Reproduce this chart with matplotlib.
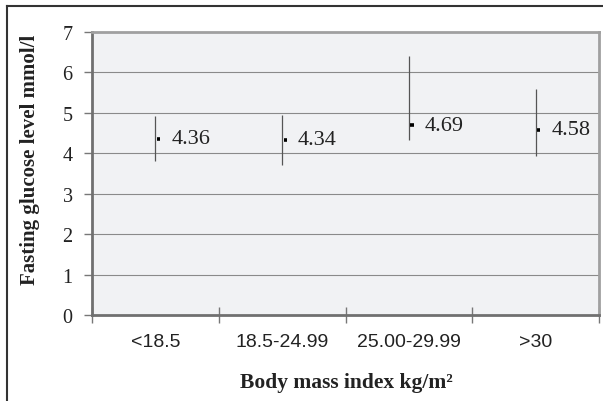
import matplotlib
matplotlib.use("Agg")
import matplotlib.pyplot as plt
from matplotlib.lines import Line2D

categories = ["<18.5", "18.5-24.99", "25.00-29.99", ">30"]
means = [4.36, 4.34, 4.69, 4.58]
highs = [4.92, 4.95, 6.41, 5.59]
lows = [3.81, 3.71, 4.33, 3.93]
yticks = [0, 1, 2, 3, 4, 5, 6, 7]

W, H = 603, 402
fig = plt.figure(figsize=(W / 100, H / 100), dpi=100)
serif = ["Liberation Serif", "DejaVu Serif"]
sans = ["Liberation Sans", "DejaVu Sans"]

ax = fig.add_axes([92 / W, 1 - 316 / H, (599 - 92) / W, (316 - 33) / H])
ax.set_facecolor("#f1f2f4")
x = list(range(len(categories)))
ax.set_xlim(-0.5, len(categories) - 0.5)
ax.set_ylim(0, 7)

for v in yticks[1:-1]:
    ax.axhline(v, color="#8a8a8a", lw=0.8, zorder=1)

ax.vlines(x, lows, highs, color="#555555", lw=0.9, zorder=3)
ax.hlines(means, [xi + 0.012 for xi in x], [xi + 0.038 for xi in x],
          color="black", lw=2.6, zorder=4)
for xi, m in zip(x, means):
    ax.annotate(f"{m:.2f}", (xi, m), xytext=(16, 0), textcoords="offset pixels",
                ha="left", va="center", fontsize=16, family=serif, color="#222222")

ax.set_yticks(yticks)
ax.set_yticklabels([str(t) for t in yticks], family=serif, fontsize=14.5, color="#222222")
ax.tick_params(axis="y", direction="out", length=6, width=1, color="#777777", pad=8)

ax.set_xticks(x)
ax.set_xticklabels(categories, family=sans, fontsize=14, color="#222222")
ax.set_xticks([xi - 0.5 for xi in x] + [len(categories) - 0.5], minor=True)
ax.tick_params(axis="x", which="major", length=0, pad=13)
ax.tick_params(axis="x", which="minor", direction="inout", length=12, width=1, color="#777777")

for s in ["left", "bottom"]:
    ax.spines[s].set_color("#707070")
    ax.spines[s].set_linewidth(2)
for s in ["top", "right"]:
    ax.spines[s].set_color("#a0a0a0")
    ax.spines[s].set_linewidth(2)

fig.text(30 / W, 1 - 160 / H, "Fasting glucose level mmol/l", rotation=90,
         ha="center", va="center", fontsize=15, fontweight="bold", family=serif, color="#222222")
fig.text(346 / W, 1 - 383 / H, "Body mass index kg/m²", ha="center", va="center",
         fontsize=15.5, fontweight="bold", family=serif, color="#222222")

fig.add_artist(Line2D([7 / W, 1], [1 - 7 / H, 1 - 7 / H], color="#333333", lw=1.5,
                      transform=fig.transFigure))
fig.add_artist(Line2D([7 / W, 7 / W], [1 - 7 / H, 0], color="#333333", lw=1.5,
                      transform=fig.transFigure))

fig.savefig("out.png", dpi=100)
